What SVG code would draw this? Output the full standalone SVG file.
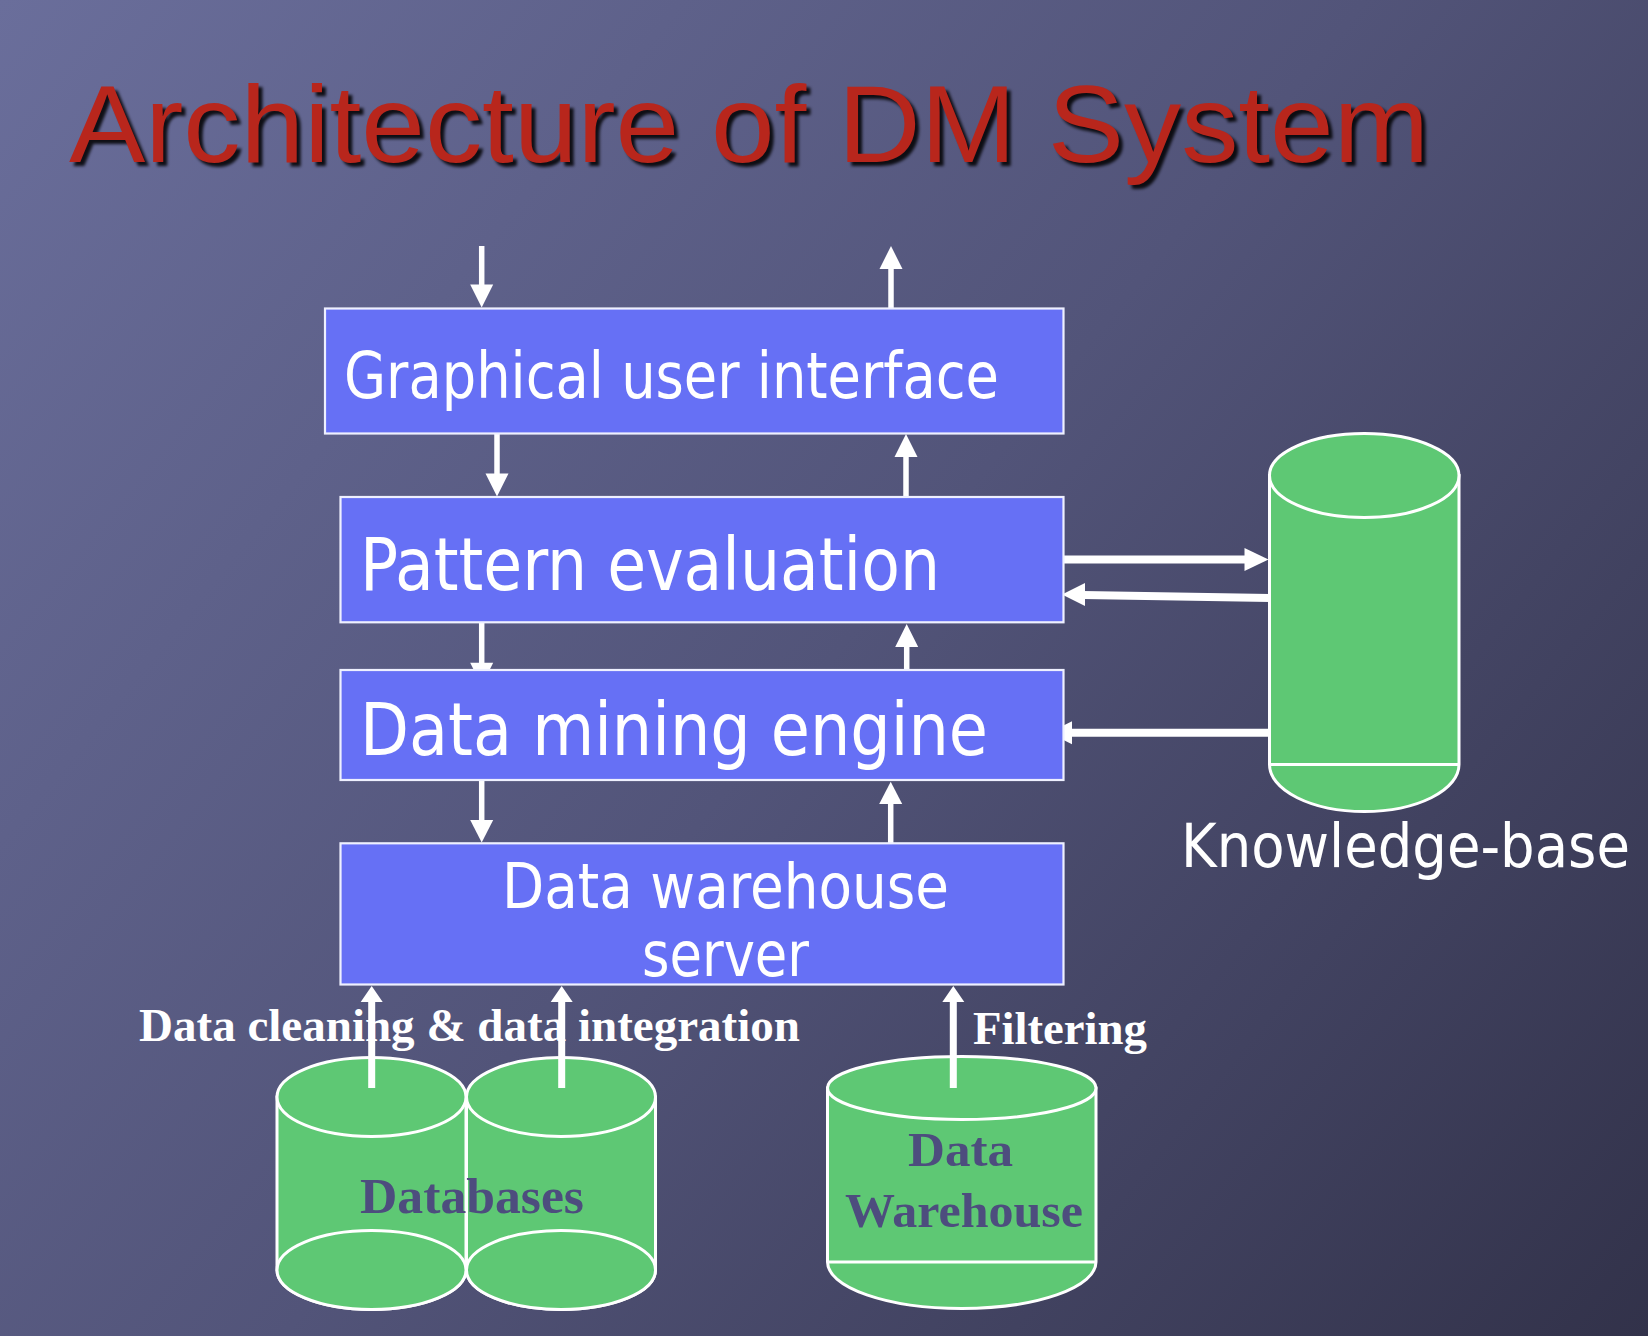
<svg xmlns="http://www.w3.org/2000/svg" width="1648" height="1336" viewBox="0 0 1648 1336">
<defs>
<linearGradient id="bg" x1="0" y1="0" x2="1648" y2="1336" gradientUnits="userSpaceOnUse">
<stop offset="0" stop-color="#6a6e9b"/>
<stop offset="0.5" stop-color="#525479"/>
<stop offset="1" stop-color="#32324a"/>
</linearGradient>
<filter id="sh" x="-5%" y="-20%" width="110%" height="140%"><feGaussianBlur stdDeviation="1.6"/></filter>
<style>
.box{fill:#6670f5;stroke:#eef0ff;stroke-width:2.2}
.btxt{font-family:"DejaVu Sans Condensed","DejaVu Sans",sans-serif;fill:#ffffff}
.cyl{fill:#5ec874;stroke:#ffffff;stroke-width:3}
.ctxt{font-family:"Liberation Serif",serif;font-weight:bold;fill:#4d4d7e}
.lbl{font-family:"Liberation Serif",serif;font-weight:bold;fill:#ffffff;font-size:46px}
.ln{stroke:#ffffff;fill:none}
.hd{fill:#ffffff}
.title{font-family:"Liberation Sans",Arial,sans-serif;font-size:110px}
</style>
</defs>
<rect x="0" y="0" width="1648" height="1336" fill="url(#bg)"/>

<g id="title">
<text class="title" x="73" y="166" fill="#000000" opacity="0.85" filter="url(#sh)" textLength="1360" lengthAdjust="spacingAndGlyphs">Architecture of DM System</text>
<text class="title" x="69" y="162" fill="#b8261c" textLength="1360" lengthAdjust="spacingAndGlyphs">Architecture of DM System</text>
</g>

<g id="databases">
<path class="cyl" d="M277,1097 L277,1270 A94.5,39.5 0 0 0 466,1270 L466,1097 Z"/>
<ellipse class="cyl" cx="371.5" cy="1097" rx="94.5" ry="39.5"/>
<ellipse class="cyl" cx="371.5" cy="1270" rx="94.5" ry="39.5"/>
<path class="cyl" d="M466.5,1097 L466.5,1270 A94.5,39.5 0 0 0 655.5,1270 L655.5,1097 Z"/>
<ellipse class="cyl" cx="561" cy="1097" rx="94.5" ry="39.5"/>
<ellipse class="cyl" cx="561" cy="1270" rx="94.5" ry="39.5"/>
<text class="ctxt" x="360" y="1213" font-size="50" textLength="224" lengthAdjust="spacingAndGlyphs">Databases</text>
</g>

<g id="data-warehouse">
<path class="cyl" d="M827.5,1088 L827.5,1262 A134.25,46.5 0 0 0 1096,1262 L1096,1088 Z"/>
<line x1="827.5" y1="1262" x2="1096" y2="1262" stroke="#ffffff" stroke-width="3"/>
<ellipse class="cyl" cx="961.75" cy="1088" rx="134.25" ry="31.5"/>
<text class="ctxt" x="960.5" y="1166" font-size="49" text-anchor="middle" textLength="105" lengthAdjust="spacingAndGlyphs">Data</text>
<text class="ctxt" x="964" y="1227" font-size="49" text-anchor="middle" textLength="238" lengthAdjust="spacingAndGlyphs">Warehouse</text>
</g>

<g id="knowledge-base">
<path class="cyl" d="M1269.5,475.5 L1269.5,764.5 A94.75,47 0 0 0 1459,764.5 L1459,475.5 Z"/>
<line x1="1269.5" y1="764.5" x2="1459" y2="764.5" stroke="#ffffff" stroke-width="3"/>
<ellipse class="cyl" cx="1364.25" cy="475.5" rx="94.75" ry="42"/>
<text class="btxt" x="1181" y="867" font-size="60" textLength="449" lengthAdjust="spacingAndGlyphs">Knowledge-base</text>
</g>

<g id="connectors">
<text class="lbl" x="139" y="1041" textLength="661" lengthAdjust="spacingAndGlyphs">Data cleaning &amp; data integration</text>
<text class="lbl" x="973" y="1043.5" textLength="174" lengthAdjust="spacingAndGlyphs">Filtering</text>
<!-- top -->
<line class="ln" x1="481.7" y1="246" x2="481.7" y2="286" stroke-width="5.5"/>
<polygon class="hd" points="470.2,284.5 493.2,284.5 481.7,307.5"/>
<line class="ln" x1="891" y1="267" x2="891" y2="309" stroke-width="5.5"/>
<polygon class="hd" points="879.5,269 902.5,269 891,246"/>
<!-- GUI <-> PE -->
<line class="ln" x1="497" y1="433" x2="497" y2="475" stroke-width="5.5"/>
<polygon class="hd" points="485.5,473.5 508.5,473.5 497,496.5"/>
<line class="ln" x1="906" y1="455" x2="906" y2="497" stroke-width="5.5"/>
<polygon class="hd" points="894.5,457 917.5,457 906,434"/>
<!-- PE <-> DME -->
<line class="ln" x1="481.7" y1="622" x2="481.7" y2="665" stroke-width="5.5"/>
<polygon class="hd" points="470.2,662.7 493.2,662.7 481.7,685.7"/>
<line class="ln" x1="906.7" y1="645" x2="906.7" y2="670" stroke-width="5.5"/>
<polygon class="hd" points="895.2,647 918.2,647 906.7,624"/>
<!-- DME <-> DWS -->
<line class="ln" x1="481.7" y1="780" x2="481.7" y2="822" stroke-width="5.5"/>
<polygon class="hd" points="470.2,820 493.2,820 481.7,842.5"/>
<line class="ln" x1="890.7" y1="802" x2="890.7" y2="843" stroke-width="5.5"/>
<polygon class="hd" points="879.2,804 902.2,804 890.7,781.7"/>
<!-- KB arrows -->
<line class="ln" x1="1063" y1="559.5" x2="1247" y2="559.5" stroke-width="8"/>
<polygon class="hd" points="1244.5,548 1244.5,571 1268.5,559.5"/>
<line class="ln" x1="1270" y1="598" x2="1083" y2="595" stroke-width="8"/>
<polygon class="hd" points="1085,583 1085,606 1062,594.5"/>
<line class="ln" x1="1270" y1="732.7" x2="1070" y2="732.7" stroke-width="8"/>
<polygon class="hd" points="1072,721.2 1072,744.2 1049,732.7"/>
<!-- bottom -->
<line class="ln" x1="371.7" y1="1088" x2="371.7" y2="1000" stroke-width="7"/>
<polygon class="hd" points="360.7,1002 382.7,1002 371.7,986"/>
<line class="ln" x1="561.7" y1="1088" x2="561.7" y2="1000" stroke-width="7"/>
<polygon class="hd" points="550.7,1002 572.7,1002 561.7,986"/>
<line class="ln" x1="953.3" y1="1088" x2="953.3" y2="1000" stroke-width="7"/>
<polygon class="hd" points="942.3,1002 964.3,1002 953.3,986"/>
</g>

<g id="gui">
<rect class="box" x="325" y="308.5" width="738.5" height="125"/>
<text class="btxt" x="344" y="398" font-size="64" textLength="655" lengthAdjust="spacingAndGlyphs">Graphical user interface</text>
</g>
<g id="pattern-evaluation">
<rect class="box" x="340.5" y="497" width="723" height="125.3"/>
<text class="btxt" x="360" y="589.5" font-size="73" textLength="580" lengthAdjust="spacingAndGlyphs">Pattern evaluation</text>
</g>
<g id="data-mining-engine">
<rect class="box" x="340.5" y="670" width="723" height="110"/>
<text class="btxt" x="360" y="755" font-size="73" textLength="628" lengthAdjust="spacingAndGlyphs">Data mining engine</text>
</g>
<g id="data-warehouse-server">
<rect class="box" x="340.5" y="843.3" width="723" height="141.2"/>
<text class="btxt" x="725.5" y="907.5" font-size="62" text-anchor="middle" textLength="447" lengthAdjust="spacingAndGlyphs">Data warehouse</text>
<text class="btxt" x="725.5" y="975.5" font-size="62" text-anchor="middle" textLength="167" lengthAdjust="spacingAndGlyphs">server</text>
</g>
</svg>
